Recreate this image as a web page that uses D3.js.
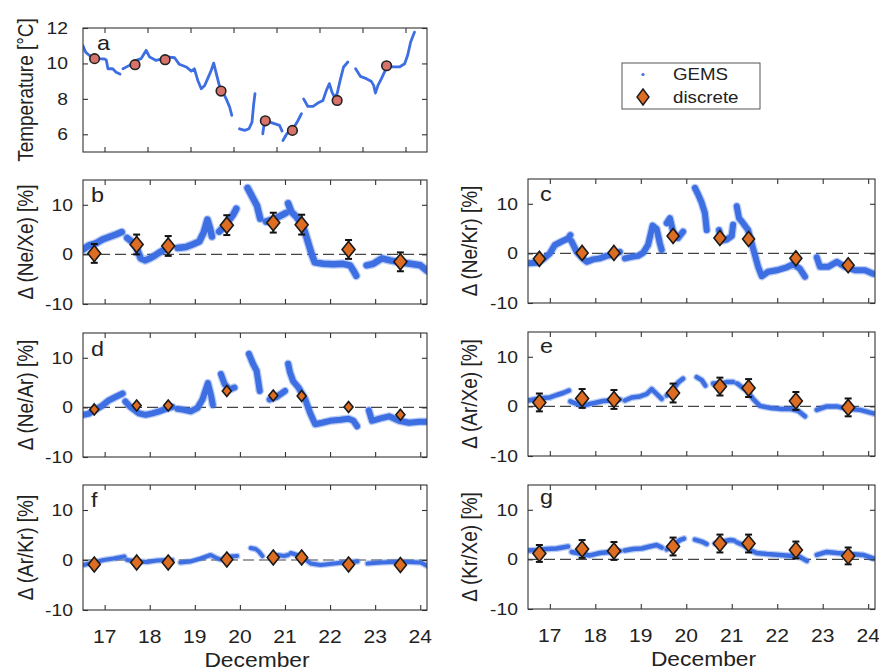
<!DOCTYPE html>
<html>
<head>
<meta charset="utf-8">
<script src="https://cdn.jsdelivr.net/npm/d3@7"></script>
<style>
  body { margin: 0; background: #fff; }
  svg text { font-family: "Liberation Sans", Arial, Helvetica, sans-serif; fill: #222; }
</style>
</head>
<body>
<svg id="chart" width="879" height="671"></svg>
<script>
// ---- data -------------------------------------------------------------
// discrete sampling times (day of December)
const sampleDays = [16.77, 17.71, 18.41, 19.71, 20.74, 21.37, 22.41, 23.56];
const tempSamples = [10.27, 9.93, 10.21, 8.44, 6.76, 6.22, 7.91, 9.87];

const neXeDiscrete = [0.2, 2.0, 1.7, 5.9, 6.4, 6.0, 1.0, -1.5];
const neXeErr      = [1.9, 2.0, 2.0, 2.0, 2.0, 2.0, 1.9, 1.9];
const neKrDiscrete = [-1.1, 0.1, 0.1, 3.5, 3.1, 2.9, -1.0, -2.4];
const neArDiscrete = [-0.4, 0.4, 0.4, 3.3, 2.4, 2.3, 0.1, -1.5];
const arXeDiscrete = [0.8, 1.6, 1.4, 2.7, 4.0, 3.7, 1.1, -0.2];
const arXeErr      = [1.8, 1.9, 1.9, 1.9, 1.8, 1.8, 1.8, 1.8];
const arKrDiscrete = [-0.9, -0.5, -0.5, 0.1, 0.5, 0.5, -0.9, -1.0];
const krXeDiscrete = [1.2, 2.1, 1.7, 2.6, 3.2, 3.2, 1.9, 0.7];
const krXeErr      = [1.7, 1.8, 1.8, 1.8, 1.8, 1.8, 1.7, 1.7];

// continuous GEMS record, one array of [day, value] per uninterrupted run
const tempGems = [
  [[16.5,11.0],[16.56,10.64],[16.65,10.45],[16.73,10.32],[16.88,10.27],[17.0,10.25],[17.04,10.2],[17.08,9.7],[17.19,9.7],[17.27,9.5],[17.36,9.4]],
  [[17.43,9.7],[17.58,9.89],[17.74,10.17],[17.85,10.27],[17.97,10.74],[18.05,10.36],[18.2,10.17],[18.36,10.27],[18.51,10.36],[18.63,10.32],[18.74,9.95],[18.9,9.8],[19.02,9.57],[19.09,9.7],[19.17,9.04],[19.25,8.57],[19.33,8.76],[19.4,9.14],[19.48,9.6],[19.54,10.02],[19.6,9.42],[19.67,8.76],[19.75,8.38],[19.83,8.0],[19.91,7.54],[19.96,7.07]],
  [[20.14,6.31],[20.26,6.22],[20.36,6.31],[20.43,6.69],[20.47,7.72],[20.5,8.29]],
  [[20.68,6.03],[20.72,6.69],[20.84,6.69],[20.95,6.6],[21.07,6.5],[21.13,6.18]],
  [[21.15,5.65],[21.24,6.03],[21.37,6.26],[21.48,6.69],[21.58,7.16]],
  [[21.63,8.0],[21.73,7.57],[21.85,7.57],[21.96,7.76],[22.08,7.91],[22.16,8.48],[22.23,8.86],[22.29,8.38],[22.35,8.1],[22.41,8.29],[22.48,9.04],[22.56,9.8],[22.66,10.08]],
  [[22.84,9.7],[22.95,9.27],[23.09,9.14],[23.2,9.0],[23.26,8.76],[23.3,8.33],[23.36,8.76],[23.44,9.14],[23.51,9.51],[23.59,9.85],[23.71,9.8],[23.86,9.8],[23.98,9.98],[24.05,10.46],[24.12,11.21],[24.21,11.77]]
];

const neXeGems = [
  [[16.52,1.0],[16.65,1.8],[16.8,2.2],[16.95,3.0],[17.1,3.5],[17.25,4.0],[17.38,4.5]],
  [[17.5,3.3],[17.6,2.6],[17.7,1.5],[17.8,-0.8],[17.9,-1.2],[18.0,-0.8],[18.1,-0.3],[18.2,0.3],[18.3,0.8],[18.4,1.3]],
  [[18.62,1.3],[18.8,1.5],[18.95,2.0],[19.1,2.6],[19.2,4.5],[19.28,7.0],[19.33,5.5],[19.38,3.6]],
  [[19.54,4.6],[19.65,5.6],[19.75,6.8],[19.85,8.0],[19.92,9.2]],
  [[20.17,13.4],[20.24,12.2],[20.31,11.0],[20.38,9.8],[20.45,7.2]],
  [[20.58,6.6],[20.7,7.0],[20.82,7.4],[20.95,8.0],[21.01,8.3]],
  [[21.07,10.3],[21.14,8.6],[21.25,7.6],[21.36,6.3],[21.44,4.6],[21.51,2.5],[21.59,0.1],[21.66,-1.6],[21.85,-1.9],[22.07,-2.0],[22.29,-1.9],[22.44,-2.2],[22.52,-3.3],[22.58,-4.3]],
  [[22.81,-2.2],[22.96,-1.9],[23.15,-0.8],[23.33,-1.2],[23.56,-1.6],[23.78,-1.9],[24.0,-2.2],[24.15,-3.3]]
];

const neKrGems = [
  [[16.52,-2.0],[16.71,-1.9],[16.85,-1.2],[17.0,0.0],[17.11,1.7],[17.26,2.4],[17.4,3.0],[17.45,3.7]],
  [[17.48,2.4],[17.59,0.3],[17.7,-0.8],[17.81,-1.7],[17.95,-1.2],[18.1,-1.0],[18.25,-0.5],[18.39,-0.3],[18.54,0.3]],
  [[18.65,-1.0],[18.8,-0.7],[18.94,-0.5],[19.05,0.1],[19.16,1.7],[19.26,5.6],[19.35,4.9],[19.42,2.0],[19.46,0.7]],
  [[19.57,6.1],[19.64,7.1],[19.71,4.4],[19.82,3.1],[19.93,4.4]],
  [[20.19,13.2],[20.26,11.9],[20.34,10.2],[20.41,8.1],[20.45,4.7]],
  [[20.72,4.7],[20.78,2.6],[20.89,2.8],[21.0,3.5],[21.03,5.8]],
  [[21.11,9.5],[21.16,7.1],[21.25,6.1],[21.36,4.7],[21.47,1.0],[21.58,-2.7],[21.66,-4.6],[21.8,-3.7],[21.99,-3.4],[22.21,-2.8],[22.35,-2.2],[22.5,-3.1],[22.61,-4.7]],
  [[22.87,-0.8],[22.94,-2.7],[23.12,-2.7],[23.31,-1.7],[23.49,-2.7],[23.71,-3.4],[23.93,-3.4],[24.11,-4.1]]
];

const neArGems = [
  [[16.52,-1.5],[16.64,-1.3],[16.79,-0.5],[16.94,0.3],[17.09,1.4],[17.24,2.1],[17.4,2.8]],
  [[17.46,1.2],[17.57,0.1],[17.76,-1.2],[17.91,-1.5],[18.06,-1.2],[18.21,-0.8],[18.36,-0.3],[18.5,0.1]],
  [[18.62,-0.3],[18.76,-0.5],[18.91,-0.8],[19.06,-0.1],[19.17,1.6],[19.29,4.9],[19.36,2.4],[19.4,0.5]],
  [[19.58,6.7],[19.66,4.7],[19.77,3.6],[19.88,4.0]],
  [[20.2,10.8],[20.29,8.8],[20.37,7.4],[20.4,5.7],[20.44,3.3]],
  [[20.66,1.6],[20.81,2.1],[21.0,3.3]],
  [[21.07,8.8],[21.11,7.1],[21.18,5.3],[21.3,4.0],[21.45,1.6],[21.56,-1.2],[21.67,-3.4],[21.82,-3.1],[22.0,-2.7],[22.23,-2.5],[22.41,-2.3],[22.52,-2.7],[22.6,-3.8]],
  [[22.86,-0.6],[22.93,-2.7],[23.12,-2.2],[23.31,-1.8],[23.53,-2.7],[23.75,-3.1],[23.98,-2.9],[24.15,-2.9]]
];

const arXeGems = [
  [[16.52,1.2],[16.71,1.5],[16.85,1.7],[17.0,1.8],[17.15,2.3],[17.29,2.7],[17.42,3.2]],
  [[17.45,1.0],[17.59,0.5],[17.73,0.1],[17.88,0.5],[18.03,0.8],[18.17,1.1],[18.36,1.2],[18.54,1.4]],
  [[18.65,1.2],[18.8,1.8],[18.98,2.0],[19.13,2.5],[19.24,3.5],[19.35,2.5],[19.46,1.5]],
  [[19.57,2.2],[19.71,3.4],[19.82,4.8],[19.93,5.6]],
  [[20.23,5.9],[20.34,5.3],[20.42,4.2]],
  [[20.59,4.6],[20.74,4.6],[20.89,4.9],[21.03,4.9]],
  [[21.12,4.6],[21.22,3.9],[21.33,3.2],[21.47,1.5],[21.62,0.1],[21.84,-0.3],[22.06,-0.5],[22.28,-0.5],[22.46,-0.9],[22.61,-2.0]],
  [[22.87,-0.7],[23.09,0.0],[23.31,0.0],[23.53,-0.5],[23.82,-0.7],[24.11,-1.4]]
];

const arKrGems = [
  [[16.53,-1.0],[16.76,-0.5],[16.98,0.0],[17.2,0.3],[17.44,0.7]],
  [[17.5,0.0],[17.72,-0.3],[17.94,-0.4],[18.16,-0.1],[18.39,0.0],[18.5,0.0]],
  [[18.68,-0.5],[18.9,-0.3],[19.13,0.3],[19.35,1.0],[19.46,0.5],[19.57,0.1]],
  [[19.66,0.5],[19.79,0.7],[19.94,0.8]],
  [[20.24,2.4],[20.35,2.2],[20.42,1.7],[20.5,0.8]],
  [[20.68,0.5],[20.83,1.0],[20.98,0.8],[21.07,1.0]],
  [[21.13,1.4],[21.27,1.0],[21.42,0.3],[21.57,-0.7],[21.79,-1.0],[22.09,-0.7],[22.39,-0.4],[22.61,-0.3]],
  [[22.83,-0.7],[23.13,-0.5],[23.42,-0.4],[23.72,-0.4],[24.01,-0.5],[24.2,-1.4]]
];

const krXeGems = [
  [[16.52,1.8],[16.71,1.9],[16.93,2.1],[17.15,2.2],[17.4,2.6]],
  [[17.48,1.5],[17.66,1.2],[17.88,0.8],[18.1,1.3],[18.32,1.5],[18.54,1.7]],
  [[18.65,1.8],[18.83,2.1],[19.02,2.2],[19.2,2.6],[19.35,2.9],[19.46,2.4]],
  [[19.57,2.0],[19.71,2.9],[19.86,3.9],[19.95,4.2]],
  [[20.19,4.0],[20.34,3.6],[20.45,3.1]],
  [[20.63,3.2],[20.81,3.6],[20.96,3.9],[21.05,3.8]],
  [[21.12,3.4],[21.25,2.9],[21.4,1.9],[21.55,1.3],[21.77,1.1],[22.06,0.9],[22.35,0.7],[22.5,0.5],[22.65,-0.3]],
  [[22.87,0.9],[23.09,1.5],[23.31,1.3],[23.6,1.1],[23.89,0.9],[24.11,0.2]]
];

const dayTicks = [17, 18, 19, 20, 21, 22, 23, 24];
const tempTicks = [6, 8, 10, 12];
const ratioTicks = [-10, 0, 10];
const legendLabels = ["GEMS", "discrete"];

// ---- drawing ----------------------------------------------------------
const svg = d3.select("#chart");
const SX = 1.17;               // horizontal glyph stretch of the typeset labels
const BLUE = "#3d6fe3";
const ORANGE = "#dd6d22";

function addText(g, x, y, txt, size, anchor, rotate, dy) {
  return g.append("text")
    .attr("transform", `translate(${x},${y}) scale(${SX},1)` + (rotate ? " rotate(-90)" : ""))
    .attr("text-anchor", anchor || "middle")
    .attr("dy", dy || "0")
    .style("font-size", size + "px")
    .text(txt);
}

function diamondPath(cx, cy, w, h) {
  return `M${cx},${cy - h}L${cx + w},${cy}L${cx},${cy + h}L${cx - w},${cy}Z`;
}

const LEFT = [83, 427], RIGHT = [528, 875];
const ratioDomain = [16.52, 24.15];

const panels = [
  { id: "a", xr: LEFT,  yr: [28, 152],  xDom: [16.5, 24.5], yDom: [5, 12], yTicks: tempTicks,
    gems: tempGems, disc: tempSamples, ylabel: "Temperature [\u00B0C]", circles: true,
    band: 2.8, letter: [14, 22], tickLblX: 15 },
  { id: "b", xr: LEFT,  yr: [180, 304], gems: neXeGems, disc: neXeDiscrete, err: neXeErr,
    ylabel: "\u0394 (Ne/Xe) [%]", band: 6.5, dw: 6.5, dh: 8, letter: [8, 22] },
  { id: "c", xr: RIGHT, yr: [179, 303], gems: neKrGems, disc: neKrDiscrete,
    ylabel: "\u0394 (Ne/Kr) [%]", band: 6, dw: 6, dh: 7.5, letter: [12, 22] },
  { id: "d", xr: LEFT,  yr: [333, 457], gems: neArGems, disc: neArDiscrete,
    ylabel: "\u0394 (Ne/Ar) [%]", band: 6, dw: 4.5, dh: 5.5, letter: [8, 23] },
  { id: "e", xr: RIGHT, yr: [332, 456], gems: arXeGems, disc: arXeDiscrete, err: arXeErr,
    ylabel: "\u0394 (Ar/Xe) [%]", band: 4.5, dw: 6.5, dh: 8, letter: [12, 21] },
  { id: "f", xr: LEFT,  yr: [485, 610], gems: arKrGems, disc: arKrDiscrete,
    ylabel: "\u0394 (Ar/Kr) [%]", band: 4, dw: 6, dh: 7.5, letter: [8, 22], bottom: true },
  { id: "g", xr: RIGHT, yr: [485, 609], gems: krXeGems, disc: krXeDiscrete, err: krXeErr,
    ylabel: "\u0394 (Kr/Xe) [%]", band: 4.5, dw: 6.5, dh: 8, letter: [12, 19], bottom: true }
];

const defs = svg.append("defs");

panels.forEach(p => {
  const x = d3.scaleLinear().domain(p.xDom || ratioDomain).range(p.xr);
  const y = d3.scaleLinear().domain(p.yDom || [-10, 15]).range([p.yr[1], p.yr[0]]);
  const yTicks = p.yTicks || ratioTicks;
  const g = svg.append("g");
  const [x0, x1] = p.xr, [y0, y1] = p.yr;

  defs.append("clipPath").attr("id", "clip-" + p.id)
    .append("rect").attr("x", x0).attr("y", y0).attr("width", x1 - x0).attr("height", y1 - y0);

  // zero reference line
  if (!p.circles) {
    g.append("line")
      .attr("x1", x0).attr("x2", x1).attr("y1", y(0)).attr("y2", y(0))
      .attr("stroke", "#444").attr("stroke-width", 1.2).attr("stroke-dasharray", "11,5");
  }

  // continuous record: a faint scatter halo under the dense core
  const line = d3.line().x(d => x(d[0])).y(d => y(d[1]));
  const rec = g.append("g").attr("clip-path", `url(#clip-${p.id})`);
  if (!p.circles) {
    rec.selectAll("path.halo").data(p.gems).join("path").attr("class", "halo")
      .attr("d", line)
      .attr("fill", "none").attr("stroke", BLUE).attr("stroke-opacity", 0.35)
      .attr("stroke-width", p.band + 2.5)
      .attr("stroke-linecap", "round").attr("stroke-linejoin", "round");
  }
  rec.selectAll("path.core").data(p.gems).join("path").attr("class", "core")
    .attr("d", line)
    .attr("fill", "none").attr("stroke", BLUE)
    .attr("stroke-width", p.band)
    .attr("stroke-linecap", "round").attr("stroke-linejoin", "round");

  // error bars
  if (p.err) {
    const eb = g.append("g").attr("stroke", "#111").attr("stroke-width", 2);
    sampleDays.forEach((t, i) => {
      const cx = x(t), lo = y(p.disc[i] - p.err[i]), hi = y(p.disc[i] + p.err[i]);
      eb.append("line").attr("x1", cx).attr("x2", cx).attr("y1", lo).attr("y2", hi);
      eb.append("line").attr("x1", cx - 3.5).attr("x2", cx + 3.5).attr("y1", lo).attr("y2", lo);
      eb.append("line").attr("x1", cx - 3.5).attr("x2", cx + 3.5).attr("y1", hi).attr("y2", hi);
    });
  }

  // discrete samples
  if (p.circles) {
    g.selectAll("circle.s").data(sampleDays).join("circle")
      .attr("cx", d => x(d)).attr("cy", (d, i) => y(p.disc[i])).attr("r", 4.8)
      .attr("fill", "#d8736b").attr("stroke", "#222").attr("stroke-width", 1.6);
  } else {
    g.selectAll("path.s").data(sampleDays).join("path")
      .attr("d", (d, i) => diamondPath(x(d), y(p.disc[i]), p.dw, p.dh))
      .attr("fill", ORANGE).attr("stroke", "#1a1a1a").attr("stroke-width", 1.6);
  }

  // frame
  g.append("rect").attr("x", x0).attr("y", y0).attr("width", x1 - x0).attr("height", y1 - y0)
    .attr("fill", "none").attr("stroke", "#333").attr("stroke-width", 1.1);

  // inward ticks on all four sides
  const style = sel => { sel.select(".domain").remove(); sel.selectAll("line").attr("stroke", "#333").attr("stroke-width", 1.1); };
  g.append("g").attr("transform", `translate(0,${y1})`)
    .call(d3.axisBottom(x).tickValues(dayTicks).tickSize(-5).tickFormat("")).call(style);
  g.append("g").attr("transform", `translate(0,${y0})`)
    .call(d3.axisTop(x).tickValues(dayTicks).tickSize(-5).tickFormat("")).call(style);
  g.append("g").attr("transform", `translate(${x0},0)`)
    .call(d3.axisLeft(y).tickValues(yTicks).tickSize(-5).tickFormat("")).call(style);
  g.append("g").attr("transform", `translate(${x1},0)`)
    .call(d3.axisRight(y).tickValues(yTicks).tickSize(-5).tickFormat("")).call(style);

  // y tick labels
  const gap = p.tickLblX || 10;
  yTicks.forEach(v => addText(g, x0 - gap, y(v), String(v), 16.5, "end", false, "0.36em"));

  // x tick labels and title on the bottom row
  if (p.bottom) {
    dayTicks.forEach(v => addText(g, x(v), y1 + 27, String(v), 18, "middle", false, "0.36em"));
    addText(g, (x0 + x1) / 2 + 2, y1 + 57, "December", 19.5, "middle");
  }

  // y axis title
  const lx = p.xr === LEFT ? 25 : 469;
  addText(g, lx, (y0 + y1) / 2, p.ylabel, 19, "middle", true, "0.36em");

  // panel letter
  addText(g, x0 + p.letter[0], y0 + p.letter[1], p.id, 20, "start");
});

// legend
const lg = svg.append("g");
lg.append("rect").attr("x", 622).attr("y", 63).attr("width", 138).attr("height", 46)
  .attr("fill", "#fff").attr("stroke", "#555").attr("stroke-width", 1);
lg.append("circle").attr("cx", 643).attr("cy", 74.5).attr("r", 1.6).attr("fill", BLUE);
lg.append("path").attr("d", diamondPath(643, 97, 6, 8))
  .attr("fill", ORANGE).attr("stroke", "#1a1a1a").attr("stroke-width", 1.4);
addText(lg, 673, 74.5, legendLabels[0], 16, "start", false, "0.36em");
addText(lg, 673, 97, legendLabels[1], 16, "start", false, "0.36em");
</script>
</body>
</html>
